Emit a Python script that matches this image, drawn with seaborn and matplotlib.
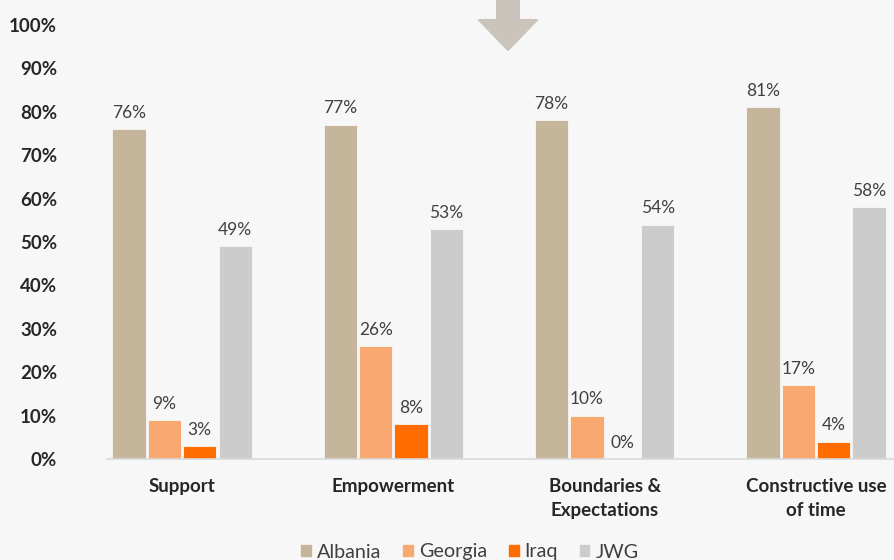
import pandas as pd
import seaborn as sns
import matplotlib.pyplot as plt
from matplotlib.patches import Polygon

categories = ['Support', 'Empowerment', 'Boundaries &\nExpectations', 'Constructive use\nof time']
countries = ['Albania', 'Georgia', 'Iraq', 'JWG']
albania = [76, 77, 78, 81]
georgia = [9, 26, 10, 17]
iraq = [3, 8, 0, 4]
jwg = [49, 53, 54, 58]
colors = ['#c4b59b', '#f9a86f', '#ff6d00', '#cccccc']

rows = []
for country, vals in zip(countries, [albania, georgia, iraq, jwg]):
    for cat, v in zip(categories, vals):
        rows.append({'category': cat, 'country': country, 'value': v / 100})
df = pd.DataFrame(rows)

sns.set_style('white')
plt.rcParams['font.family'] = ['Lato', 'DejaVu Sans']
bg = '#f7f7f7'

fig = plt.figure(figsize=(8.95, 5.6), dpi=100, facecolor=bg)
ax = fig.add_axes([0.1196, 0.1804, 0.8804, 0.775])
ax.set_facecolor(bg)

sns.barplot(data=df, x='category', y='value', hue='country', palette=colors, saturation=1,
            width=0.67, gap=0.06, ax=ax, legend=False, edgecolor='#f7f7f7', linewidth=0.6)

for cont in ax.containers:
    ax.bar_label(cont, labels=[f'{b.get_height()*100:.0f}%' for b in cont],
                 padding=6, fontsize=12.5, color='#404040')

ax.set_ylim(0, 1.0)
ax.set_xlim(-0.355, 3.374)
ax.set_yticks([i / 10 for i in range(11)])
ax.set_yticklabels([f'{i*10}%' for i in range(11)], fontsize=13.5, fontweight='bold', color='#262626')
ax.set_xticks(range(4))
ax.set_xticklabels(categories, fontsize=13.5, fontweight='bold', color='#262626', linespacing=1.45)
ax.tick_params(axis='y', length=0, pad=36)
ax.tick_params(axis='x', length=0, pad=14)
ax.set_xlabel('')
ax.set_ylabel('')
for s in ['top', 'right', 'left']:
    ax.spines[s].set_visible(False)
ax.spines['bottom'].set_color('#d9d9d9')
ax.spines['bottom'].set_linewidth(1.2)

# down arrow decoration at the top
W, H = 895, 560
pts = [(497, 0), (519, 0), (519, 20), (537, 20), (508, 50), (479, 20), (497, 20)]
fig.patches.append(Polygon([(x / W, 1 - y / H) for x, y in pts], closed=True,
                           transform=fig.transFigure, facecolor='#cbc4bc',
                           edgecolor='#cbc4bc', joinstyle='round', linewidth=1.5))

handles = [plt.Rectangle((0, 0), 1, 1, color=c) for c in colors]
fig.legend(handles, countries, loc='center', bbox_to_anchor=(0.525, 1 - 552 / H), ncol=4,
           frameon=False, fontsize=14.2, handlelength=0.5, handleheight=0.5,
           handletextpad=0.3, columnspacing=1.1, labelcolor='#404040')

fig.savefig('out.png', dpi=100, facecolor=bg)
